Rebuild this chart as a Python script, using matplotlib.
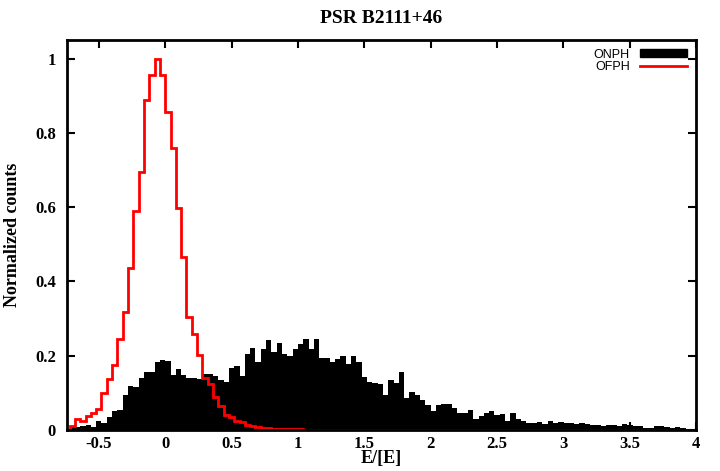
import numpy as np
import matplotlib
matplotlib.use("Agg")
import matplotlib.pyplot as plt
from matplotlib.patches import Patch
from matplotlib.lines import Line2D

title = "PSR B2111+46"
xlabel = "E/[E]"
ylabel = "Normalized counts"
series_names = ["ONPH", "OFPH"]

# histogram bins: start and width
bin_start = -0.72
bin_width = 0.04

onph = [
    0.007, 0.009, 0.012, 0.014, 0.009, 0.025, 0.019, 0.036, 0.050, 0.054,
    0.095, 0.119, 0.115, 0.139, 0.157, 0.155, 0.182, 0.189, 0.186, 0.149,
    0.164, 0.149, 0.141, 0.141, 0.137, 0.152, 0.150, 0.145, 0.135, 0.128,
    0.168, 0.172, 0.146, 0.204, 0.220, 0.184, 0.218, 0.242, 0.209, 0.234,
    0.204, 0.200, 0.218, 0.231, 0.245, 0.218, 0.245, 0.195, 0.193, 0.184,
    0.190, 0.200, 0.178, 0.198, 0.182, 0.144, 0.130, 0.126, 0.123, 0.095,
    0.134, 0.126, 0.155, 0.085, 0.103, 0.094, 0.081, 0.067, 0.052, 0.067,
    0.069, 0.069, 0.058, 0.046, 0.046, 0.055, 0.030, 0.038, 0.047, 0.050,
    0.040, 0.043, 0.025, 0.047, 0.030, 0.025, 0.020, 0.020, 0.021, 0.016,
    0.025, 0.020, 0.022, 0.018, 0.020, 0.015, 0.018, 0.016, 0.014, 0.014,
    0.010, 0.013, 0.013, 0.010, 0.016, 0.014, 0.010, 0.010, 0.006, 0.005,
    0.010, 0.010, 0.009, 0.006, 0.008, 0.005, 0.004, 0.004,
]

ofph = [
    0.010, 0.030, 0.023, 0.037, 0.047, 0.056, 0.100, 0.138, 0.174, 0.245,
    0.319, 0.437, 0.590, 0.694, 0.888, 0.957, 1.000, 0.957, 0.856, 0.758,
    0.598, 0.466, 0.303, 0.258, 0.202, 0.141, 0.124, 0.090, 0.065, 0.040,
    0.035, 0.025, 0.022, 0.013, 0.011, 0.009, 0.006, 0.006, 0.004, 0.003,
    0.003, 0.002, 0.002, 0.002, 0.001, 0.001, 0.001, 0.001, 0.000, 0.000,
    0.000, 0.000, 0.000, 0.000, 0.000, 0.001, 0.000, 0.000, 0.000, 0.000,
    0.000, 0.000, 0.000, 0.000, 0.000, 0.000, 0.000, 0.000, 0.000, 0.000,
    0.000, 0.000, 0.000, 0.000, 0.000, 0.000, 0.000, 0.000, 0.000, 0.000,
    0.000, 0.000, 0.000, 0.000, 0.000, 0.000, 0.000, 0.000, 0.000, 0.000,
    0.000, 0.000, 0.000, 0.000, 0.000, 0.000, 0.000, 0.000, 0.000, 0.000,
    0.000, 0.000, 0.000, 0.000, 0.000, 0.000, 0.000, 0.000, 0.000, 0.000,
    0.000, 0.000, 0.000, 0.000, 0.000, 0.000, 0.000, 0.000,
]

xticks = [-0.5, 0, 0.5, 1, 1.5, 2, 2.5, 3, 3.5, 4]
yticks = [0, 0.2, 0.4, 0.6, 0.8, 1.0]


def main():
    serif = ["Liberation Serif", "DejaVu Serif"]
    edges = bin_start + bin_width * np.arange(len(onph) + 1)

    fig = plt.figure(figsize=(7.2, 4.71), dpi=100)
    ax = fig.add_axes([0.093, 0.087, 0.874, 0.828])

    ax.stairs(onph, edges, fill=True, color="black", zorder=2)
    ax.stairs(ofph, edges, color="red", linewidth=2, baseline=0, zorder=3)

    ax.set_xlim(-0.74, 4.0)
    ax.set_ylim(0, 1.05)
    ax.set_xticks(xticks)
    ax.set_xticklabels(["%g" % t for t in xticks])
    ax.set_yticks(yticks)
    ax.set_yticklabels(["%g" % t for t in yticks])
    ax.tick_params(direction="in", length=6, width=1.5, top=True, right=True,
                   labelsize=12)
    ax.tick_params(axis="x", pad=4)
    ax.tick_params(axis="y", pad=8)
    for lab in ax.get_xticklabels() + ax.get_yticklabels():
        lab.set_family(serif)
        lab.set_fontweight("bold")
    for sp in ax.spines.values():
        sp.set_linewidth(2)
        sp.set_zorder(4)

    ax.set_title(title, fontsize=14, fontweight="bold", family=serif, pad=12)
    ax.set_xlabel(xlabel, fontsize=13, fontweight="bold", family=serif)
    ax.xaxis.set_label_coords(0.5, -0.052)
    ax.set_ylabel(ylabel, fontsize=13, fontweight="bold", family=serif, labelpad=10)

    handles = [Patch(facecolor="black", edgecolor="black"),
               Line2D([0], [0], color="red", linewidth=2)]
    ax.legend(handles, series_names, loc="upper right", frameon=False,
              markerfirst=False, handlelength=3.8, handleheight=0.6,
              labelspacing=0.05, borderaxespad=0.3, handletextpad=0.8,
              prop={"family": "Liberation Sans", "size": 9})

    fig.savefig("out.png", dpi=100)


if __name__ == "__main__":
    main()
